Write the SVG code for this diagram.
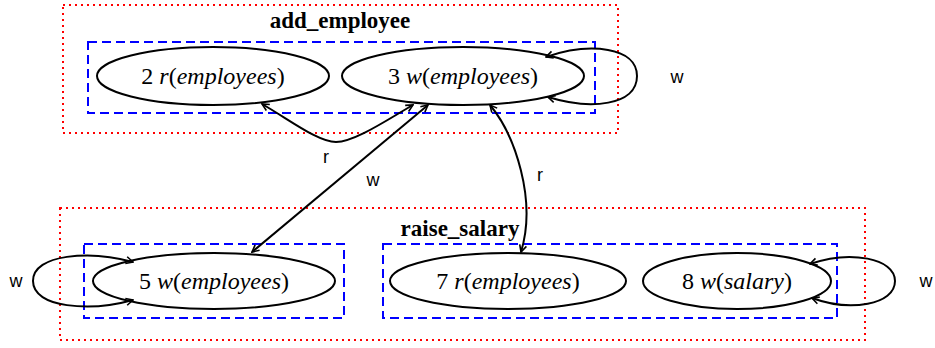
<svg xmlns="http://www.w3.org/2000/svg" width="935" height="348" viewBox="0 0 935 348">
  <style>
    .cluster { fill: none; stroke: #ff0000; stroke-width: 2; stroke-dasharray: 2 4; }
    .group { fill: none; stroke: #0000ff; stroke-width: 2; stroke-dasharray: 9 5; }
    .node { fill: none; stroke: #000; stroke-width: 2; }
    .edge { fill: none; stroke: #000; stroke-width: 2; marker-start: url(#vee); marker-end: url(#vee); }
    .title { font-weight: bold; font-size: 23px; text-anchor: middle; fill: #000; }
    .label { font-size: 24px; text-anchor: middle; fill: #000; }
    .it { font-style: italic; }
    .elabel { font-size: 18px; text-anchor: middle; fill: #000; }
  </style>
  <defs>
    <marker id="vee" viewBox="0 0 10 10" refX="9" refY="5" markerWidth="10" markerHeight="10" markerUnits="userSpaceOnUse" orient="auto-start-reverse">
      <path d="M2,1.5 L9,5 L2,8.5" fill="none" stroke="#000" stroke-width="1.6"/>
    </marker>
  </defs>

  <!-- transaction clusters -->
  <g id="cluster_add_employee">
    <rect class="cluster" x="63" y="5" width="555" height="128"/>
    <text class="title" font-family="'Liberation Serif', 'Times New Roman', serif" x="340" y="28">add_employee</text>
    <rect class="group" x="88" y="42" width="507" height="71"/>
  </g>
  <g id="cluster_raise_salary">
    <rect class="cluster" x="60" y="208" width="805" height="132"/>
    <text class="title" font-family="'Liberation Serif', 'Times New Roman', serif" x="460" y="236">raise_salary</text>
    <rect class="group" x="84" y="244" width="260" height="74"/>
    <rect class="group" x="383" y="244" width="454" height="74"/>
  </g>

  <!-- operations -->
  <g id="node2">
    <ellipse class="node" cx="213" cy="76" rx="116" ry="29"/>
    <text class="label" font-family="'Liberation Serif', 'Times New Roman', serif" x="213" y="84">2 <tspan class="it">r</tspan>(<tspan class="it">employees</tspan>)</text>
  </g>
  <g id="node3">
    <ellipse class="node" cx="463" cy="76" rx="121" ry="29"/>
    <text class="label" font-family="'Liberation Serif', 'Times New Roman', serif" x="463" y="84">3 <tspan class="it">w</tspan>(<tspan class="it">employees</tspan>)</text>
  </g>
  <g id="node5">
    <ellipse class="node" cx="214" cy="281" rx="121" ry="28"/>
    <text class="label" font-family="'Liberation Serif', 'Times New Roman', serif" x="214" y="289">5 <tspan class="it">w</tspan>(<tspan class="it">employees</tspan>)</text>
  </g>
  <g id="node7">
    <ellipse class="node" cx="508" cy="281" rx="118" ry="28"/>
    <text class="label" font-family="'Liberation Serif', 'Times New Roman', serif" x="508" y="289">7 <tspan class="it">r</tspan>(<tspan class="it">employees</tspan>)</text>
  </g>
  <g id="node8">
    <ellipse class="node" cx="737" cy="281" rx="94" ry="28"/>
    <text class="label" font-family="'Liberation Serif', 'Times New Roman', serif" x="737" y="289">8 <tspan class="it">w</tspan>(<tspan class="it">salary</tspan>)</text>
  </g>

  <!-- conflict edges -->
  <g id="edges" font-family="'Liberation Sans', Arial, sans-serif">
    <path class="edge" d="M548,97 C590,110 637,106 637,76 C637,47 590,42 546,57"/>
    <text class="elabel" x="677" y="83">w</text>

    <path class="edge" d="M262,104 C290,120 318,142 336,142 C355,142 390,118 413,105"/>
    <text class="elabel" x="326" y="163">r</text>

    <path class="edge" d="M428,105 L252,252"/>
    <text class="elabel" x="373" y="186">w</text>

    <path class="edge" d="M490,105 C515,135 537,200 521,252"/>
    <text class="elabel" x="540" y="181">r</text>

    <path class="edge" d="M133,262 C90,250 33,254 33,281 C33,308 90,312 133,300"/>
    <text class="elabel" x="16" y="287">w</text>

    <path class="edge" d="M810,264 C850,250 895,258 895,281 C895,305 850,312 812,298"/>
    <text class="elabel" x="926" y="287">w</text>
  </g>
</svg>
